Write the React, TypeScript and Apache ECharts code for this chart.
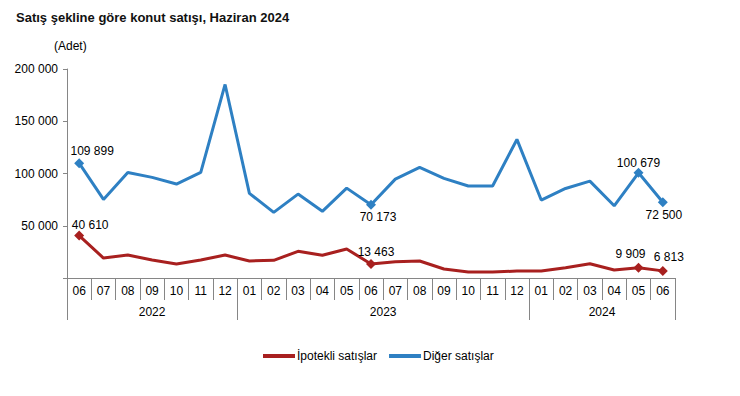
import React, { useEffect, useRef } from "react";
import * as echarts from "echarts";

const months = [
  "06", "07", "08", "09", "10", "11", "12",
  "01", "02", "03", "04", "05", "06", "07", "08", "09", "10", "11", "12",
  "01", "02", "03", "04", "05", "06",
];
const years = ["2022", "2023", "2024"];
// year group boundaries (in category units)
const yearBounds = [0, 7, 19, 25];

const ipotekli = [
  40610, 19100, 22000, 17200, 13400, 17200, 22000,
  16300, 16900, 25500, 21700, 27700, 13463, 15600, 16300, 8600, 5700, 5700, 6700,
  6700, 9800, 13700, 7600, 9909, 6813,
];
const diger = [
  109899, 75200, 101000, 96300, 89900, 101000, 185200,
  81000, 62800, 80300, 63800, 86000, 70173, 94600, 105800, 95300, 88000, 88000, 132600,
  74600, 85700, 92700, 69100, 100679, 72500,
];

const redMarks: Record<number, { pos: string; off: [number, number] }> = {
  0: { pos: "top", off: [11, 1] },
  12: { pos: "top", off: [5, 0] },
  23: { pos: "top", off: [-8, -2] },
  24: { pos: "top", off: [6, -2] },
};
const blueMarks: Record<number, { pos: string; off: [number, number] }> = {
  0: { pos: "top", off: [13, 0] },
  12: { pos: "bottom", off: [7, 0] },
  23: { pos: "top", off: [0, 2] },
  24: { pos: "bottom", off: [1, 1] },
};

const fmt = (v: number) => String(v).replace(/\B(?=(\d{3})+(?!\d))/g, " ");

const RED = "#A8201F";
const BLUE = "#2E80C3";
const AXIS = "#868686";
const NARROW = "'Liberation Sans Narrow', 'Arial Narrow', 'Liberation Sans', Arial, sans-serif";
const SANS = "'Liberation Sans', Arial, sans-serif";

function buildData(vals: number[], marks: Record<number, { pos: string; off: [number, number] }>) {
  return vals.map((v, i) => {
    const m = marks[i];
    if (!m) return { value: v };
    return {
      value: v,
      symbol: "diamond",
      symbolSize: 10,
      label: {
        show: true,
        position: m.pos,
        distance: 1,
        offset: m.off,
        formatter: () => fmt(v),
        color: "#000",
        fontSize: 12,
        fontFamily: SANS,
      },
    };
  });
}

export default function App() {
  const ref = useRef<HTMLDivElement>(null);
  useEffect(() => {
    if (!ref.current) return;
    const chart = echarts.init(ref.current, undefined, { renderer: "svg" });
    const nHalf = yearBounds[yearBounds.length - 1] * 2 + 1;
    const yearCenters = years.map((_, i) => yearBounds[i] + yearBounds[i + 1]);
    const yearAxisData = Array.from({ length: nHalf }, (_, k) => {
      const idx = yearCenters.indexOf(k);
      return idx >= 0 ? years[idx] : "";
    });
    const yearTickIdx = yearBounds.map((b) => b * 2);
    chart.setOption({
      animation: false,
      title: {
        text: "Satış şekline göre konut satışı, Haziran 2024",
        left: 11,
        top: 6,
        textStyle: { fontSize: 13, fontWeight: "bold", color: "#111", fontFamily: SANS },
      },
      graphic: [
        {
          type: "text",
          left: 54,
          top: 40,
          style: { text: "(Adet)", fontSize: 12, fill: "#000", fontFamily: SANS },
        },
      ],
      legend: {
        bottom: 29,
        left: 258,
        itemWidth: 32,
        itemHeight: 4,
        itemGap: 12,
        icon: "rect",
        textStyle: { fontSize: 12, color: "#000", fontFamily: NARROW, padding: [0, 0, 0, -3] },
        data: ["İpotekli satışlar", "Diğer satışlar"],
      },
      grid: { left: 67, right: 65, top: 69, bottom: 118 },
      xAxis: [
        {
          type: "category",
          data: months,
          boundaryGap: true,
          position: "bottom",
          axisLine: { show: true, lineStyle: { color: AXIS, width: 1 } },
          axisTick: { show: true, interval: 0, length: 22, lineStyle: { color: AXIS } },
          axisLabel: { interval: 0, margin: 7, fontSize: 12, color: "#000", fontFamily: NARROW },
        },
        {
          type: "category",
          data: yearAxisData,
          boundaryGap: false,
          position: "bottom",
          axisLine: { show: false },
          axisTick: {
            show: true,
            interval: (i: number) => yearTickIdx.indexOf(i) >= 0,
            length: 42,
            lineStyle: { color: AXIS },
          },
          axisLabel: {
            interval: (i: number) => yearCenters.indexOf(i) >= 0,
            margin: 28,
            fontSize: 12,
            color: "#000",
            fontFamily: NARROW,
          },
        },
      ],
      yAxis: {
        type: "value",
        min: 0,
        max: 200000,
        interval: 50000,
        splitLine: { show: false },
        axisLine: { show: true, lineStyle: { color: AXIS } },
        axisTick: { show: true, length: 4, lineStyle: { color: AXIS } },
        axisLabel: {
          margin: 9,
          fontSize: 12,
          color: "#000",
          fontFamily: SANS,
          formatter: (v: number) => (v === 0 ? "" : fmt(v)),
        },
      },
      series: [
        {
          name: "İpotekli satışlar",
          type: "line",
          xAxisIndex: 0,
          symbol: "none",
          showAllSymbol: true,
          color: RED,
          lineStyle: { color: RED, width: 3 },
          itemStyle: { color: RED },
          data: buildData(ipotekli, redMarks),
        },
        {
          name: "Diğer satışlar",
          type: "line",
          xAxisIndex: 0,
          symbol: "none",
          showAllSymbol: true,
          color: BLUE,
          lineStyle: { color: BLUE, width: 3 },
          itemStyle: { color: BLUE },
          data: buildData(diger, blueMarks),
        },
      ],
    });
    return () => chart.dispose();
  }, []);
  return (
    <div
      ref={ref}
      style={{ position: "fixed", left: 0, top: 0, width: 740, height: 396, background: "#fff" }}
    />
  );
}
